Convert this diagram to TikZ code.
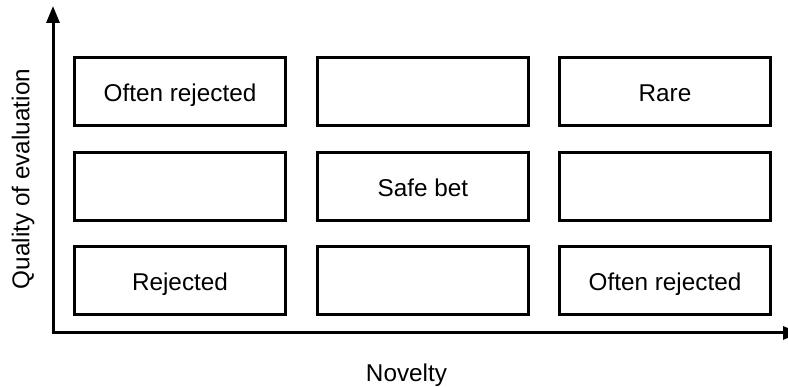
\documentclass[tikz,border=0pt]{standalone}
\usepackage{fontspec}
\setmainfont{Liberation Sans}
\usetikzlibrary{arrows.meta}
\tikzset{cell/.style={draw, line width=3pt, minimum width=211pt, minimum height=68pt, inner sep=0pt, text height=25pt, text depth=5pt}}
\begin{document}
\begin{tikzpicture}[x=1pt, y=1pt, font=\fontsize{24.3}{29}\selectfont, line join=miter, line cap=butt]
	\useasboundingbox (0,0) rectangle (788,387);
	\def\xa{180} \def\xb{423} \def\xc{665} % columns
	\def\ya{295.5} \def\yb{200} \def\yc{106.5} % rows
	\coordinate (O) at (53,54);
	\coordinate (ytop) at (53,381);
	\coordinate (xend) at (800,54);
	\draw[line width=3pt, {Triangle[width=13pt,length=17pt]}-{Triangle[width=13pt,length=17pt]}] (ytop) -- (O) -- (xend);
	\node[cell] (r1a) at (\xa,\ya) {Often rejected};
	\node[cell] (r1b) at (\xb,\ya) {};
	\node[cell] (r1c) at (\xc,\ya) {Rare};
	\node[cell] (r2a) at (\xa,\yb) {};
	\node[cell] (r2b) at (\xb,\yb) {Safe bet};
	\node[cell] (r2c) at (\xc,\yb) {};
	\node[cell] (r3a) at (\xa,\yc) {Rejected};
	\node[cell] (r3b) at (\xb,\yc) {};
	\node[cell] (r3c) at (\xc,\yc) {Often rejected};
	\node (novelty) at (406.5,11.5) {Novelty};
	\node[rotate=90] (quality) at (23,208) {Quality of evaluation};
\end{tikzpicture}
\end{document}
